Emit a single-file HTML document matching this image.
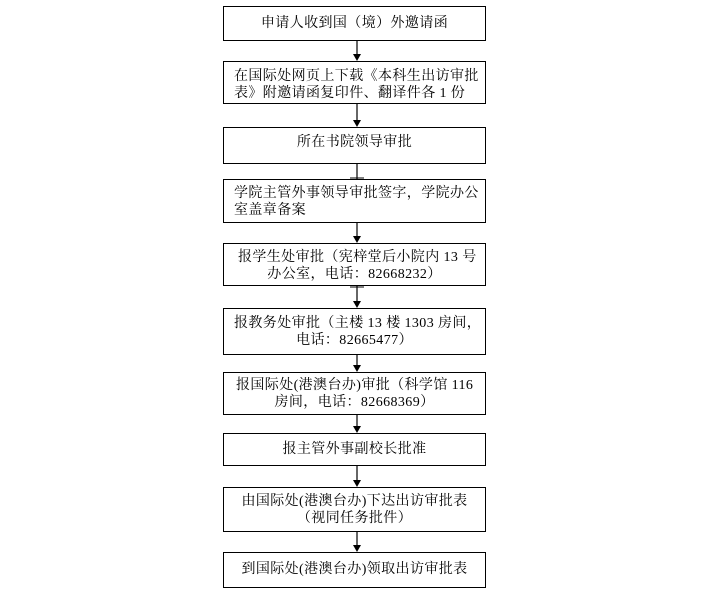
<!DOCTYPE html>
<html><head><meta charset="utf-8"><style>
html,body{margin:0;padding:0;background:#fff;}
body{width:706px;height:595px;position:relative;overflow:hidden;font-family:"Liberation Serif","Noto Serif CJK SC","Noto Sans CJK SC",serif;font-size:14px;color:#000;}
.b{position:absolute;left:223px;width:263px;border:1px solid #000;box-sizing:border-box;}
.t{position:absolute;left:0;right:0;white-space:nowrap;line-height:17px;letter-spacing:0.4px;}
.c{text-align:center;}
.l{padding-left:10px;}
</style></head><body>
<svg width="706" height="595" style="position:absolute;left:0;top:0">
<g stroke="#000" stroke-width="1.2">
<line x1="357" y1="41" x2="357" y2="55"/>
<line x1="357" y1="104" x2="357" y2="121"/>
<line x1="357" y1="164" x2="357" y2="179"/>
<line x1="357" y1="223" x2="357" y2="237"/>
<line x1="357" y1="286" x2="357" y2="302"/>
<line x1="357" y1="355" x2="357" y2="366"/>
<line x1="357" y1="415" x2="357" y2="427"/>
<line x1="357" y1="466" x2="357" y2="481"/>
<line x1="357" y1="532" x2="357" y2="546"/>
</g>
<g fill="#000">
<polygon points="353,54 361,54 357,61"/>
<polygon points="353,120 361,120 357,127"/>
<polygon points="353,236 361,236 357,243"/>
<polygon points="353,301 361,301 357,308"/>
<polygon points="353,365 361,365 357,372"/>
<polygon points="353,426 361,426 357,433"/>
<polygon points="353,480 361,480 357,487"/>
<polygon points="353,545 361,545 357,552"/>
</g>
<line x1="350" y1="178" x2="364" y2="178" stroke="#000" stroke-width="1"/>
<line x1="350" y1="287" x2="364" y2="287" stroke="#000" stroke-width="1"/>
</svg>
<div class="b" style="top:6px;height:35px"><div class="t c" style="top:8px">申请人收到国（境）外邀请函</div></div>
<div class="b" style="top:61px;height:43px"><div class="t l" style="top:6px">在国际处网页上下载《本科生出访审批</div><div class="t l" style="top:23px">表》附邀请函复印件、翻译件各 1 份</div></div>
<div class="b" style="top:127px;height:37px"><div class="t c" style="top:6px">所在书院领导审批</div></div>
<div class="b" style="top:179px;height:44px"><div class="t l" style="top:5px">学院主管外事领导审批签字，学院办公</div><div class="t l" style="top:22px">室盖章备案</div></div>
<div class="b" style="top:243px;height:43px"><div class="t l" style="top:5px;padding-left:14px">报学生处审批（宪梓堂后小院内 13 号</div><div class="t c" style="top:22px">办公室，电话：82668232）</div></div>
<div class="b" style="top:308px;height:47px"><div class="t l" style="top:6px">报教务处审批（主楼 13 楼 1303 房间，</div><div class="t c" style="top:23px">电话：82665477）</div></div>
<div class="b" style="top:372px;height:43px"><div class="t l" style="top:4px;padding-left:12px">报国际处(港澳台办)审批（科学馆 116</div><div class="t c" style="top:21px">房间，电话：82668369）</div></div>
<div class="b" style="top:433px;height:33px"><div class="t c" style="top:7px">报主管外事副校长批准</div></div>
<div class="b" style="top:487px;height:45px"><div class="t c" style="top:5px">由国际处(港澳台办)下达出访审批表</div><div class="t c" style="top:22px">（视同任务批件）</div></div>
<div class="b" style="top:552px;height:36px"><div class="t c" style="top:8px">到国际处(港澳台办)领取出访审批表</div></div>
</body></html>
